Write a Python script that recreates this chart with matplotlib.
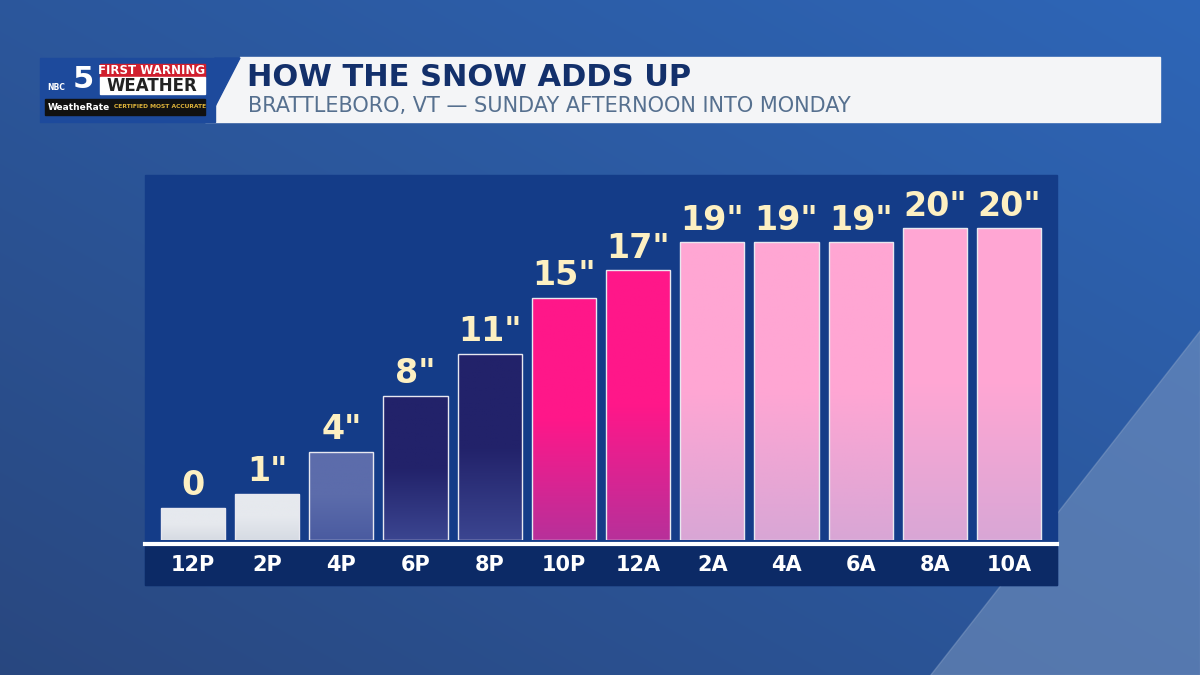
import numpy as np
import matplotlib.pyplot as plt
from matplotlib.patches import Rectangle, Polygon

times = ["12P", "2P", "4P", "6P", "8P", "10P", "12A", "2A", "4A", "6A", "8A", "10A"]
snow = [0, 1, 4, 8, 11, 15, 17, 19, 19, 19, 20, 20]
labels = ["0", '1"', '4"', '8"', '11"', '15"', '17"', '19"', '19"', '19"', '20"', '20"']
# (top colour, bottom colour) per bar
bar_colors = [("#e6e9ee", "#d6dbe3"), ("#e6e9ee", "#d6dbe3"), ("#5c6cab", "#4a5ba0"),
              ("#22226a", "#3b4590"), ("#22226a", "#3b4590"),
              ("#ff1789", "#b8309a"), ("#ff1789", "#b8309a")] + [("#ffa6d3", "#d9a6d6")] * 5
base = 2.3

fig = plt.figure(figsize=(12, 6.75), dpi=100)

# background
bg = fig.add_axes([0, 0, 1, 1])
bg.set_xlim(0, 1200)
bg.set_ylim(675, 0)
bg.axis("off")
yy, xx = np.mgrid[0:675, 0:1200]
g = 0.5 * xx / 1200 + 0.5 * (1 - yy / 675)
top = np.array([0.18, 0.40, 0.72])
bot = np.array([0.16, 0.28, 0.50])
img = bot[None, None, :] * (1 - g[..., None]) + top[None, None, :] * g[..., None]
bg.imshow(img, extent=[0, 1200, 675, 0], aspect="auto")
bg.add_patch(Polygon([[1200, 330], [1200, 675], [930, 675]], color="#8aa3c8", alpha=0.45))

# header
bg.add_patch(Polygon([[240, 57], [1160, 57], [1160, 122], [205, 122]], color="#f4f5f7"))
bg.add_patch(Rectangle((40, 58), 175, 64, color="#1d4a9c"))
bg.add_patch(Polygon([[215, 58], [240, 58], [207, 122], [200, 122]], color="#1d4a9c"))
bg.text(247, 78, "HOW THE SNOW ADDS UP", fontsize=22, fontweight="bold", color="#13306b", va="center")
bg.text(248, 106, "BRATTLEBORO, VT \u2014 SUNDAY AFTERNOON INTO MONDAY", fontsize=15, color="#56708f", va="center")
bg.text(47, 88, "NBC", fontsize=5.5, color="white", fontweight="bold", va="center")
bg.text(83, 79, "5", fontsize=22, color="white", fontweight="bold", va="center", ha="center")
bg.add_patch(Rectangle((100, 64), 105, 13, color="#d01f2e"))
bg.text(152, 71, "FIRST WARNING", fontsize=8.5, color="white", fontweight="bold", ha="center", va="center")
bg.add_patch(Rectangle((100, 77), 105, 17, color="white"))
bg.text(152, 86, "WEATHER", fontsize=12, color="#222222", fontweight="bold", ha="center", va="center")
bg.add_patch(Rectangle((45, 99), 160, 16, color="#111111"))
bg.text(48, 107, "WeatheRate", fontsize=6.5, color="white", fontweight="bold", va="center")
bg.text(114, 107, "CERTIFIED MOST ACCURATE", fontsize=4.3, color="#e0b43a", fontweight="bold", va="center")

# chart panel
bg.add_patch(Rectangle((145, 175), 912, 410, color="#143c88"))
bg.add_patch(Rectangle((145, 546), 912, 39, color="#0c2a66"))
bg.plot([145, 1057], [544, 544], color="white", lw=3)

ax = fig.add_axes([145 / 1200, 1 - 540 / 675, 912 / 1200, 365 / 675])
ax.set_xlim(-0.647, 11.647)
ax.set_ylim(-base, 23.8)
ax.axis("off")
x = np.arange(len(times))
bars = ax.bar(x, np.array(snow) + base, bottom=-base, width=0.865,
              edgecolor="#e8e8f0", linewidth=1, color="none", zorder=3)
for b, (ct, cb) in zip(bars, bar_colors):
    c1 = np.array(plt.matplotlib.colors.to_rgb(ct))
    c2 = np.array(plt.matplotlib.colors.to_rgb(cb))
    t = np.linspace(0, 1, 100)[:, None]
    t = np.clip((t - 0.5) / 0.5, 0, 1)
    grad = c1 * (1 - t) + c2 * t
    x0, y0 = b.get_x(), b.get_y()
    im = ax.imshow(grad[:, None, :], extent=[x0, x0 + b.get_width(), y0, y0 + b.get_height()],
                   aspect="auto", zorder=2)
    im.set_clip_path(b)
for xi, v, lab in zip(x, snow, labels):
    ax.text(xi, v + 0.4, lab, ha="center", va="bottom", fontsize=24, fontweight="bold", color="#fdf0c2")

for i, lab in enumerate(times):
    bg.text(193 + i * 74.2, 565, lab, ha="center", va="center", fontsize=15, fontweight="bold", color="white")

fig.savefig("out.png", dpi=100)
